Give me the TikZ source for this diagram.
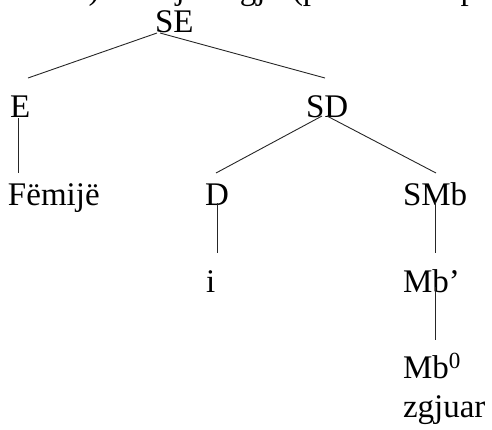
\documentclass[tikz,border=0pt]{standalone}
\usepackage{fontspec}
\setmainfont{Liberation Serif}
\begin{document}
\begin{tikzpicture}[x=1pt,y=-1pt,
  lbl/.style={anchor=base west,inner sep=0pt,outer sep=0pt,
              font=\fontsize{33}{40}\selectfont},
  branch/.style={draw=black!85,line width=0.9pt}]
\useasboundingbox (0,0) rectangle (492,429);
\clip (0,0) rectangle (492,429);

% running text line above the tree (only its descenders reach the page)
\node[lbl] (head1) at (74,-1) {c) Fëmijë i zgjuar};
\node[lbl] (head2) at (292,-1) {(përdoret në p};

% tree labels
\node[lbl] (SE)  at (155,32.5) {SE};
\node[lbl] (E)   at (10,117)   {E};
\node[lbl] (SD)  at (306,117)  {SD};
\node[lbl] (Fem) at (8,205)    {Fëmijë};
\node[lbl] (D)   at (205,205)  {D};
\node[lbl] (SMb) at (403,205)  {SMb};
\node[lbl] (i)   at (206,292)  {i};
\node[lbl] (Mbp) at (403,292)  {Mb’};
\node[lbl] (Mb0) at (403,378)  {Mb\textsuperscript{0}};
\node[lbl] (zgj) at (403,417)  {zgjuar};

% branch end points
\coordinate (SE-l)   at (157,33);
\coordinate (SE-r)   at (160,33);
\coordinate (E-up)   at (28,78);
\coordinate (SD-up)  at (325,78);
\coordinate (E-dn)   at (18,118);
\coordinate (Fem-up) at (18,173);
\coordinate (SD-l)   at (322,116);
\coordinate (SD-r)   at (327,116);
\coordinate (D-up)   at (216,173);
\coordinate (SMb-up) at (436,173);
\coordinate (D-dn)   at (217,203);
\coordinate (i-up)   at (217,253);
\coordinate (SMb-dn) at (435,202);
\coordinate (Mbp-up) at (435,253);
\coordinate (Mbp-dn) at (435,287);
\coordinate (Mb0-up) at (435,340);

% branches
\draw[branch] (SE-l) -- (E-up);
\draw[branch] (SE-r) -- (SD-up);
\draw[branch] (E-dn) -- (Fem-up);
\draw[branch] (SD-l) -- (D-up);
\draw[branch] (SD-r) -- (SMb-up);
\draw[branch] (D-dn) -- (i-up);
\draw[branch] (SMb-dn) -- (Mbp-up);
\draw[branch] (Mbp-dn) -- (Mb0-up);
\end{tikzpicture}
\end{document}
